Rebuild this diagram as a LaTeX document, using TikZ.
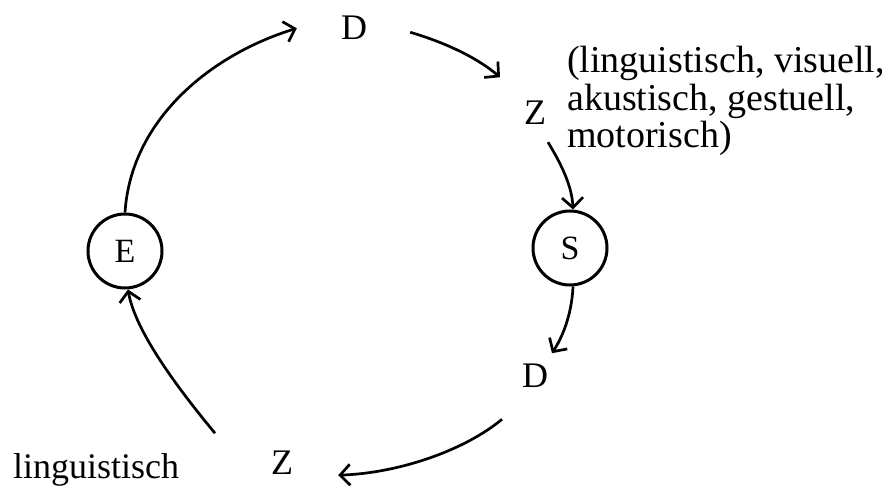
\documentclass[tikz,border=0pt]{standalone}
\usepackage{fontspec}
\setmainfont{Liberation Serif}
\usetikzlibrary{arrows.meta,calc}
\begin{document}
\begin{tikzpicture}[x=1pt,y=-1pt,
  lbl/.style={font=\fontsize{36}{40}\selectfont, inner sep=0pt, anchor=base},
  lblw/.style={font=\fontsize{36}{40}\selectfont, inner sep=0pt, anchor=base west},
  notew/.style={font=\fontsize{38}{40}\selectfont, inner sep=0pt, anchor=base west},
  state/.style={circle, draw, line width=3pt, minimum size=74pt, inner sep=0pt, font=\fontsize{34}{40}\selectfont},
  conn/.style={line width=2.7pt, -{Straight Barb[length=10pt,width=21pt]}}]
\useasboundingbox (0,0) rectangle (884,486);
% nodes
\node[state] (E) at (125,251) {E};
\node[state] (S) at (570,248) {S};
\node[lbl] (D1) at (354,40) {D};
\node[lbl] (Z1) at (535,125) {Z};
\node[lbl] (D2) at (535,388) {D};
\node[lbl] (Z2) at (282,474) {Z};
\node[lblw] (ling) at (13,478) {linguistisch};
\node[notew] (n1) at (567,73) {(linguistisch, visuell,};
\node[notew] (n2) at (567,110.5) {akustisch, gestuell,};
\node[notew] (n3) at (567,148) {motorisch)};
% connectors
\draw[conn] (E.north) .. controls (131,120) and (210,55) .. ($(D1.west)+(-44,0)$);
\draw[conn] ($(D1.east)+(43,4)$) .. controls (450,44) and (480,60) .. ($(Z1.north)+(-35,-24)$);
\draw[conn] ($(Z1.south)+(13,17)$) .. controls (560,162) and (572,185) .. ($(S.north)+(3,0)$);
\draw[conn] ($(S.south)+(3,0)$) .. controls (572,310) and (565,333) .. ($(D2.north)+(17,-11)$);
\draw[conn] ($(D2.south)+(-33,31)$) .. controls (465,450) and (400,473) .. ($(Z2.east)+(45,13)$);
\draw[conn] ($(Z2.north)+(-67,-17)$) .. controls (175,385) and (135,330) .. ($(E.south)+(3,0)$);
\end{tikzpicture}
\end{document}
